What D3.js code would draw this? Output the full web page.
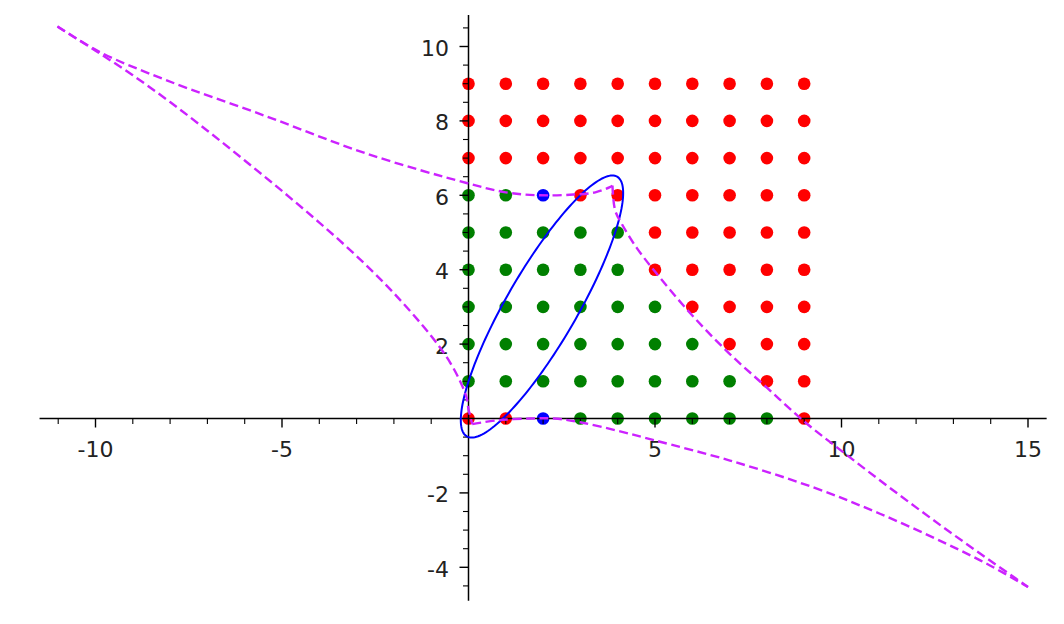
<!DOCTYPE html>
<html>
<head>
<meta charset="utf-8">
<script src="https://cdn.jsdelivr.net/npm/d3@7"></script>
<style>
  html, body { margin: 0; padding: 0; background: #fff; }
  svg { display: block; }
  text { font-family: "DejaVu Sans", sans-serif; fill: #222; }
</style>
</head>
<body>
<svg id="chart" width="1064" height="624"></svg>
<script>
// ---- data ----
const redPoints = [
  [0,9],[1,9],[2,9],[3,9],[4,9],[5,9],[6,9],[7,9],[8,9],[9,9],
  [0,8],[1,8],[2,8],[3,8],[4,8],[5,8],[6,8],[7,8],[8,8],[9,8],
  [0,7],[1,7],[2,7],[3,7],[4,7],[5,7],[6,7],[7,7],[8,7],[9,7],
  [3,6],[4,6],[5,6],[6,6],[7,6],[8,6],[9,6],
  [5,5],[6,5],[7,5],[8,5],[9,5],
  [5,4],[6,4],[7,4],[8,4],[9,4],
  [6,3],[7,3],[8,3],[9,3],
  [7,2],[8,2],[9,2],
  [8,1],[9,1],
  [0,0],[1,0],[9,0]
];
const greenPoints = [
  [0,6],[1,6],
  [0,5],[1,5],[2,5],[3,5],[4,5],
  [0,4],[1,4],[2,4],[3,4],[4,4],
  [0,3],[1,3],[2,3],[3,3],[4,3],[5,3],
  [0,2],[1,2],[2,2],[3,2],[4,2],[5,2],[6,2],
  [0,1],[1,1],[2,1],[3,1],[4,1],[5,1],[6,1],[7,1],
  [3,0],[4,0],[5,0],[6,0],[7,0],[8,0]
];
const bluePoints = [[2,6],[2,0]];

// ellipse: center, semi-axes, rotation (degrees)
const ellipseCenter = [1.97, 3.01];
const ellipseAxes = [4.03, 0.95];
const ellipseAngle = 60;

// dashed magenta boundary curves
const curveTop = [[-11.02,10.54],[-9.88,9.85],[-8.09,9.09],[-5.41,8.12],[-2.73,7.12],[-0.05,6.33],[1.0,6.08],[1.92,6.0],[2.81,6.02],[3.4,6.08],[3.79,6.22],[3.86,6.26]];
const curveRight = [[3.86,6.26],[3.93,5.6],[4.11,5.23],[4.5,4.6],[5,3.95],[6,2.77],[7,1.74],[8,0.83],[9,-0.08],[10,-0.87],[11,-1.64],[12,-2.39],[13,-3.12],[14,-3.83],[15,-4.53]];
const curveLeft = [[-11.02,10.54],[-10,9.887],[-9,9.227],[-8,8.507],[-7,7.737],[-6,6.937],[-5,6.117],[-4,5.267],[-3,4.367],[-2,3.367],[-1,2.217],[-0.5,1.517],[-0.2,0.947],[-0.05,0.56],[0.0,0.25],[0.1,-0.15]];
const curveBottom = [[0.1,-0.15],[0.76,-0.05],[1.65,0.0],[2.3,0.0],[2.99,-0.1],[4.0,-0.33],[5.0,-0.59],[7.01,-1.13],[9.24,-1.85],[11.03,-2.56],[12.82,-3.37],[13.98,-3.95],[15.0,-4.53]];

const xMajorTicks = [-10, -5, 5, 10, 15];
const yMajorTicks = [-4, -2, 2, 4, 6, 8, 10];
const xDomain = [-11.5, 15.5];
const yDomain = [-4.9, 10.85];

// ---- drawing ----
const svg = d3.select("#chart");
const x = d3.scaleLinear().domain(xDomain).range([468.5 - 11.5*37.3, 468.5 + 15.5*37.3]);
const y = d3.scaleLinear().domain(yDomain).range([418.5 + 4.9*37.2, 418.5 - 10.85*37.2]);

// points
const pts = svg.append("g");
function drawPts(data, color) {
  pts.selectAll(null).data(data).enter().append("circle")
    .attr("cx", d => x(d[0])).attr("cy", d => y(d[1])).attr("r", 6.3)
    .attr("fill", color);
}
drawPts(redPoints, "#ff0000");
drawPts(greenPoints, "#008000");
drawPts(bluePoints, "#0000ff");

// axes
const ax = svg.append("g");
const xMinor = d3.range(-11, 16, 1).filter(v => !xMajorTicks.includes(v) && v !== 0);
const yMinor = d3.range(-4.5, 11, 0.5).filter(v => !yMajorTicks.includes(v) && v !== 0);

ax.append("line").attr("x1", x(xDomain[0])).attr("x2", x(xDomain[1]))
  .attr("y1", y(0)).attr("y2", y(0)).attr("stroke", "#000").attr("stroke-width", 1.5);
ax.append("line").attr("y1", y(yDomain[0])).attr("y2", y(yDomain[1]))
  .attr("x1", x(0)).attr("x2", x(0)).attr("stroke", "#000").attr("stroke-width", 1.5);

ax.selectAll(null).data(xMinor).enter().append("line")
  .attr("x1", d => x(d)).attr("x2", d => x(d)).attr("y1", y(0)).attr("y2", y(0) + 5.5)
  .attr("stroke", "#000").attr("stroke-width", 1.1);
ax.selectAll(null).data(xMajorTicks).enter().append("line")
  .attr("x1", d => x(d)).attr("x2", d => x(d)).attr("y1", y(0)).attr("y2", y(0) + 9)
  .attr("stroke", "#000").attr("stroke-width", 1.4);
ax.selectAll(null).data(yMinor).enter().append("line")
  .attr("y1", d => y(d)).attr("y2", d => y(d)).attr("x1", x(0) - 5.5).attr("x2", x(0))
  .attr("stroke", "#000").attr("stroke-width", 1.1);
ax.selectAll(null).data(yMajorTicks).enter().append("line")
  .attr("y1", d => y(d)).attr("y2", d => y(d)).attr("x1", x(0) - 9).attr("x2", x(0))
  .attr("stroke", "#000").attr("stroke-width", 1.4);

ax.selectAll(null).data(xMajorTicks).enter().append("text")
  .attr("x", d => x(d)).attr("y", y(0) + 38)
  .attr("text-anchor", "middle").attr("font-size", 22)
  .text(d => String(d));
ax.selectAll(null).data(yMajorTicks).enter().append("text")
  .attr("x", x(0) - 19.5).attr("y", d => y(d) + 9.5)
  .attr("text-anchor", "end").attr("font-size", 22)
  .text(d => String(d));

// ellipse
const th = ellipseAngle * Math.PI / 180;
const ellPts = d3.range(0, 361, 2).map(deg => {
  const t = deg * Math.PI / 180;
  const ex = ellipseAxes[0] * Math.cos(t), ey = ellipseAxes[1] * Math.sin(t);
  return [ellipseCenter[0] + ex*Math.cos(th) - ey*Math.sin(th),
          ellipseCenter[1] + ex*Math.sin(th) + ey*Math.cos(th)];
});
const line = d3.line().x(d => x(d[0])).y(d => y(d[1]));
svg.append("path").attr("d", line.curve(d3.curveLinearClosed)(ellPts))
  .attr("fill", "none").attr("stroke", "#0000ff").attr("stroke-width", 2);

// dashed curves
const cline = d3.line().x(d => x(d[0])).y(d => y(d[1])).curve(d3.curveCatmullRom.alpha(0.5));
[curveTop, curveRight, curveLeft, curveBottom].forEach(c => {
  svg.append("path").attr("d", cline(c))
    .attr("fill", "none").attr("stroke", "#cc22ff").attr("stroke-width", 2.4)
    .attr("stroke-dasharray", "9,4.5");
});
</script>
</body>
</html>
